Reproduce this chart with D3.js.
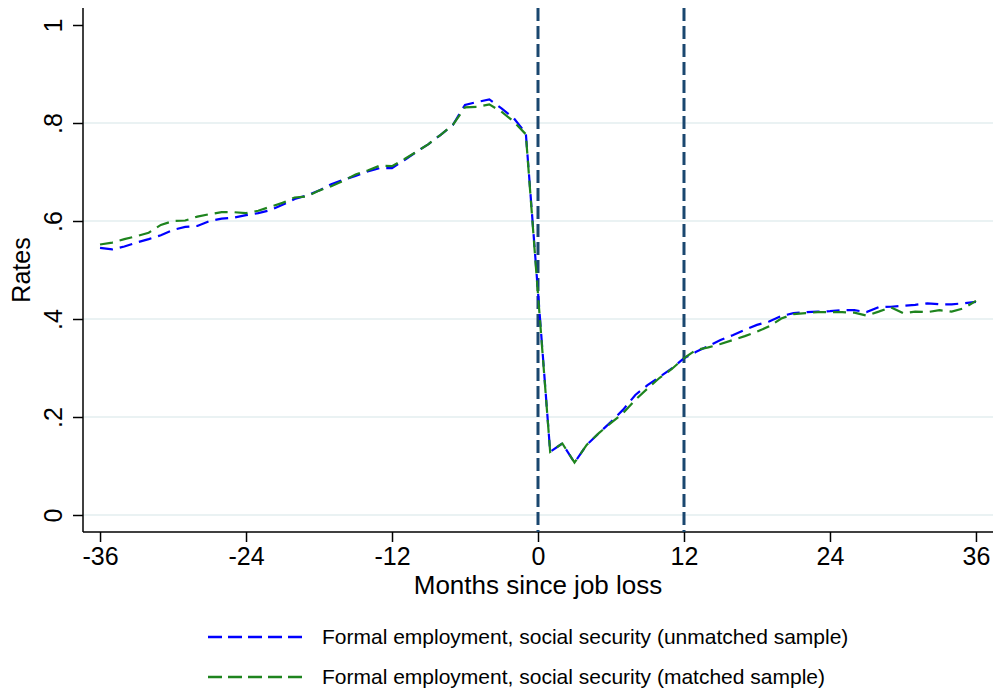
<!DOCTYPE html>
<html>
<head>
<meta charset="utf-8">
<script src="https://cdn.jsdelivr.net/npm/d3@7"></script>
<style>
  body { margin: 0; background: #fff; }
  text { font-family: "Liberation Sans", Arial, sans-serif; fill: #000; }
</style>
</head>
<body>
<svg id="chart" width="994" height="693"></svg>
<script>
// months since job loss, -36 .. 36
var months = d3.range(-36, 37);

var unmatched = [
  .545, .542, .548, .556, .563, .571, .582, .588, .590, .600, .605, .607,
  .612, .616, .622, .633, .645, .652, .662, .675, .684, .692, .701, .708,
  .708, .724, .741, .757, .776, .796, .837, .843, .848, .830, .810, .779,
  .455,
  .129, .146, .107, .143, .167, .190, .215, .245, .265, .282, .299, .320,
  .333, .345, .357, .367, .378, .388, .395, .406, .412, .414, .415, .416,
  .418, .418, .414, .424, .425, .427, .429, .432, .430, .430, .432, .435
];

var matched = [
  .552, .556, .563, .569, .576, .592, .600, .601, .609, .614, .618, .618,
  .616, .621, .629, .637, .648, .650, .662, .671, .682, .695, .703, .713,
  .712, .726, .741, .757, .776, .796, .832, .833, .838, .823, .803, .777,
  .450,
  .129, .146, .107, .143, .167, .188, .208, .235, .258, .280, .298, .320,
  .337, .342, .349, .357, .365, .374, .385, .401, .410, .412, .414, .414,
  .414, .413, .407, .415, .424, .412, .415, .414, .418, .415, .422, .437
];

var xTicks = [-36, -24, -12, 0, 12, 24, 36];
var yTicks = [0, .2, .4, .6, .8, 1];
var yTickLabels = ["0", ".2", ".4", ".6", ".8", "1"];
var refLines = [0, 12];

var series = [
  {name: "Formal employment, social security (unmatched sample)", values: unmatched, color: "#0000ff"},
  {name: "Formal employment, social security (matched sample)", values: matched, color: "#1e841e"}
];

// plot region (window.top is read-only, so other names)
var plotLeft = 83, plotRight = 993, plotTop = 8, plotBottom = 532;

var svg = d3.select("#chart");

var x = d3.scaleLinear()
  .domain([-37.4, 37.4])
  .range([plotLeft, plotRight]);

var y = d3.scaleLinear()
  .domain([-0.0347, 1.0347])
  .range([plotBottom, plotTop]);

// gridlines
svg.append("g")
  .selectAll("line")
  .data(yTicks.filter(d => d < 1))
  .join("line")
  .attr("x1", plotLeft)
  .attr("x2", plotRight)
  .attr("y1", d => y(d))
  .attr("y2", d => y(d))
  .attr("stroke", "#eaf2f3")
  .attr("stroke-width", 2);

// x axis
var xAxis = svg.append("g")
  .attr("transform", `translate(0,${plotBottom})`)
  .call(d3.axisBottom(x).tickValues(xTicks).tickSize(10).tickPadding(5).tickFormat(d => String(d)));
xAxis.select(".domain").attr("d", `M${plotLeft},0H${plotRight}`).attr("stroke-width", 1.5);
xAxis.selectAll(".tick line").attr("stroke-width", 1.5);
xAxis.selectAll("text").attr("font-size", 25).attr("font-family", "Liberation Sans, Arial, sans-serif");

// y axis, labels rotated like stata
var yAxis = svg.append("g")
  .attr("transform", `translate(${plotLeft},0)`)
  .call(d3.axisLeft(y).tickValues(yTicks).tickSize(10).tickFormat((d, i) => yTickLabels[i]));
yAxis.select(".domain").attr("d", `M0,${plotTop}V${plotBottom}`).attr("stroke-width", 1.5);
yAxis.selectAll(".tick line").attr("stroke-width", 1.5);
yAxis.selectAll("text")
  .attr("font-size", 25)
  .attr("font-family", "Liberation Sans, Arial, sans-serif")
  .attr("x", null).attr("dy", null)
  .attr("text-anchor", "middle")
  .attr("transform", "translate(-21,0) rotate(-90)");

// axis titles
svg.append("text")
  .attr("x", x(0))
  .attr("y", 594)
  .attr("text-anchor", "middle")
  .attr("font-size", 26)
  .text("Months since job loss");

svg.append("text")
  .attr("transform", `translate(30,${y(0.5)}) rotate(-90)`)
  .attr("text-anchor", "middle")
  .attr("font-size", 25)
  .text("Rates");

// reference lines at job loss and one year later
svg.append("g")
  .selectAll("line")
  .data(refLines)
  .join("line")
  .attr("x1", d => x(d))
  .attr("x2", d => x(d))
  .attr("y1", plotTop)
  .attr("y2", plotBottom)
  .attr("stroke", "#1a476f")
  .attr("stroke-width", 3)
  .attr("stroke-dasharray", "13,5");

// the two series
var line = d3.line()
  .x((d, i) => x(months[i]))
  .y(d => y(d));

svg.append("g")
  .selectAll("path")
  .data(series)
  .join("path")
  .attr("d", d => line(d.values))
  .attr("fill", "none")
  .attr("stroke", d => d.color)
  .attr("stroke-width", 2.2)
  .attr("stroke-dasharray", "13,7");

// legend
var legend = svg.append("g")
  .selectAll("g")
  .data(series)
  .join("g")
  .attr("transform", (d, i) => `translate(0,${637 + i * 40})`);

legend.append("line")
  .attr("x1", 208)
  .attr("x2", 305)
  .attr("stroke", d => d.color)
  .attr("stroke-width", 2.5)
  .attr("stroke-dasharray", "14,6");

legend.append("text")
  .attr("x", 322)
  .attr("y", 7)
  .attr("font-size", 21)
  .text(d => d.name);
</script>
</body>
</html>
